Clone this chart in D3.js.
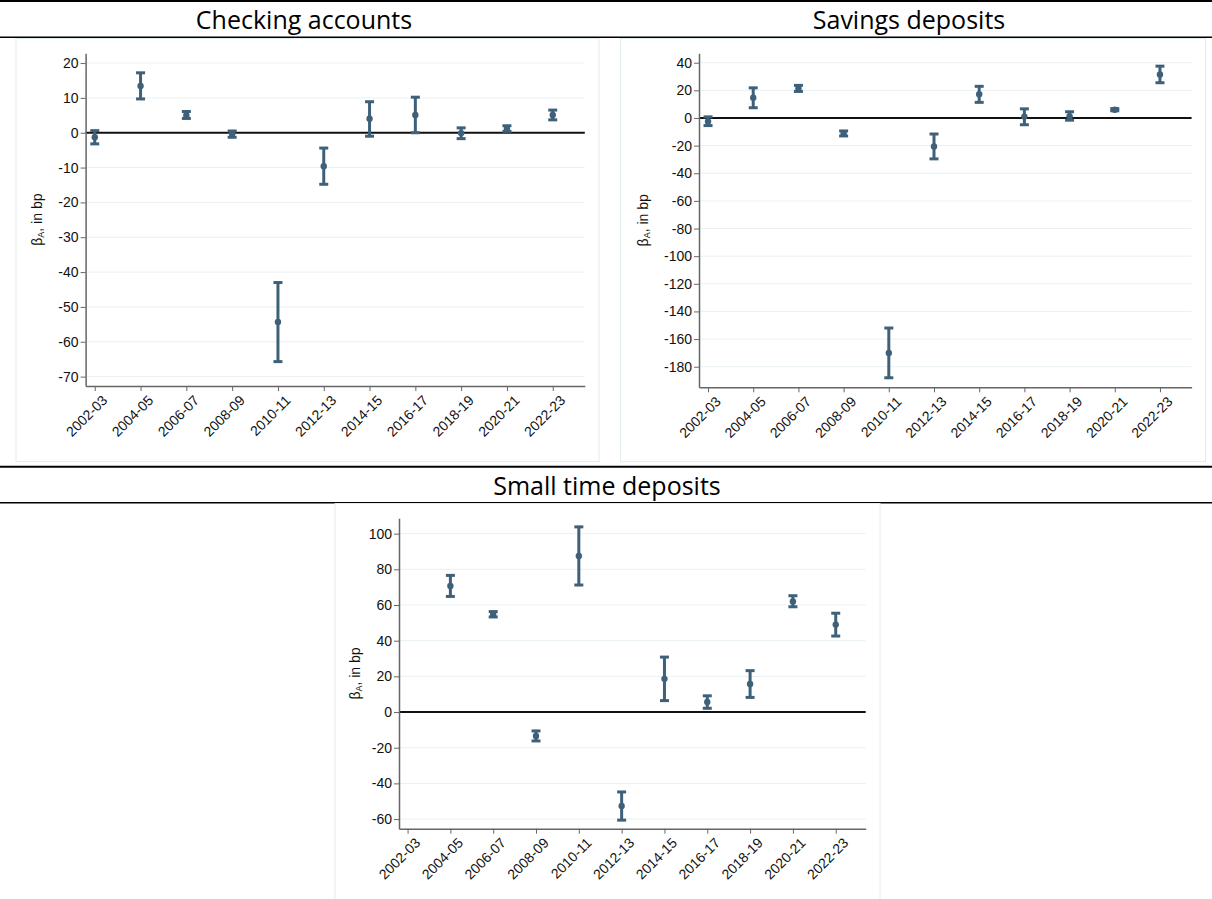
<!DOCTYPE html>
<html>
<head>
<meta charset="utf-8">
<script src="https://cdn.jsdelivr.net/npm/d3@7"></script>
<style>
  body { margin: 0; background: #fff; }
  svg { display: block; }
</style>
</head>
<body>
<svg id="chart" width="1212" height="899"></svg>
<script>
// Periods on the x axis
const periods = ["2002-03", "2004-05", "2006-07", "2008-09", "2010-11", "2012-13",
  "2014-15", "2016-17", "2018-19", "2020-21", "2022-23"];

// Checking accounts: point estimate and 95% CI, bp
const checkingEst = [-1.3, 13.4, 5.0, -0.4, -54.3, -9.6, 4.0, 5.1, -0.1, 1.2, 5.1];
const checkingLo = [-3.2, 9.7, 4.1, -1.3, -65.7, -14.8, -1.0, 0.0, -1.7, 0.4, 3.7];
const checkingHi = [0.6, 17.2, 6.1, 0.5, -43.0, -4.4, 8.9, 10.2, 1.4, 2.0, 6.5];

// Savings deposits
const savingsEst = [-2.5, 14.7, 21.3, -11.2, -170, -20.6, 17.2, 1.0, 1.2, 6.0, 31.5];
const savingsLo = [-5.5, 7.4, 19.2, -13.0, -188, -29.6, 11.3, -4.9, -1.6, 5.2, 25.5];
const savingsHi = [0.8, 21.8, 23.6, -9.4, -152, -11.6, 22.9, 6.6, 4.5, 6.8, 37.5];

// Small time deposits (no estimate for 2002-03)
const timeEst = [null, 70.7, 54.8, -13.4, 87.5, -52.7, 18.6, 5.6, 15.7, 62.0, 49.0];
const timeLo = [null, 64.8, 53.3, -16.2, 71.2, -60.6, 6.4, 2.1, 8.2, 59.0, 42.6];
const timeHi = [null, 76.6, 56.3, -10.6, 103.8, -44.8, 30.8, 9.1, 23.2, 65.2, 55.4];

const yTicksChecking = d3.range(20, -71, -10);
const yTicksSavings = d3.range(40, -181, -20);
const yTicksTime = d3.range(100, -61, -20);

const barColor = '#3e6079';
const gridColor = '#e9f1f2';
const axisColor = '#666';
const tickFont = '"Liberation Sans", Arial, sans-serif';

const svg = d3.select('#chart');

// Section rules
[[1, 2], [37.3, 1.5], [466.7, 2], [502.7, 1.5]].forEach(([yy, w]) => {
  svg.append('line').attr('x1', 0).attr('x2', 1212).attr('y1', yy).attr('y2', yy)
    .attr('stroke', '#000').attr('stroke-width', w);
});

const panels = [
  {
    title: 'Checking accounts', titleX: 304, titleY: 29,
    box: [16, 38.5, 583, 423],
    xRange: [85.6, 584.8], yRange: [386, 53.3], yDomain: [-72.7, 22.8],
    yTicks: yTicksChecking, labelX: 42,
    est: checkingEst, lo: checkingLo, hi: checkingHi
  },
  {
    title: 'Savings deposits', titleX: 909, titleY: 29,
    box: [620.5, 38.5, 585, 423],
    xRange: [699, 1191.6], yRange: [387.3, 53.3], yDomain: [-194.9, 46.8],
    yTicks: yTicksSavings, labelX: 648,
    est: savingsEst, lo: savingsLo, hi: savingsHi
  },
  {
    title: 'Small time deposits', titleX: 607, titleY: 495,
    box: [335, 503.5, 545, 420],
    xRange: [399, 865.7], yRange: [828.7, 518.3], yDomain: [-65.4, 108.6],
    yTicks: yTicksTime, labelX: 360,
    est: timeEst, lo: timeLo, hi: timeHi
  }
];

panels.forEach(p => {
  svg.append('text')
    .attr('x', p.titleX).attr('y', p.titleY)
    .attr('text-anchor', 'middle')
    .style('font-family', '"Open Sans", "Noto Sans", sans-serif')
    .style('font-size', '25px')
    .attr('fill', '#000')
    .text(p.title);

  // light frame around the plot region
  svg.append('rect')
    .attr('x', p.box[0]).attr('y', p.box[1])
    .attr('width', p.box[2]).attr('height', p.box[3])
    .attr('fill', 'none').attr('stroke', '#e3ecee').attr('stroke-width', 1);

  const x = d3.scaleLinear().domain([-0.2, 10.7]).range(p.xRange);
  const y = d3.scaleLinear().domain(p.yDomain).range(p.yRange);
  const g = svg.append('g');

  // gridlines
  g.selectAll('line.grid')
    .data(p.yTicks.filter(t => t !== 0))
    .join('line')
    .attr('class', 'grid')
    .attr('x1', p.xRange[0]).attr('x2', p.xRange[1])
    .attr('y1', d => y(d)).attr('y2', d => y(d))
    .attr('stroke', gridColor).attr('stroke-width', 1);

  // zero line
  g.append('line')
    .attr('x1', p.xRange[0]).attr('x2', p.xRange[1])
    .attr('y1', y(0)).attr('y2', y(0))
    .attr('stroke', '#111').attr('stroke-width', 2);

  // y axis
  const yAxis = g.append('g')
    .attr('transform', `translate(${p.xRange[0]},0)`)
    .call(d3.axisLeft(y).tickValues(p.yTicks).tickFormat(d => String(d))
      .tickSize(5).tickPadding(2).tickSizeOuter(0));
  yAxis.attr('font-family', null);
  yAxis.select('.domain').attr('stroke', axisColor).attr('stroke-width', 1.5);
  yAxis.selectAll('.tick line').attr('stroke', axisColor).attr('stroke-width', 1);
  yAxis.selectAll('.tick text')
    .style('font-family', tickFont)
    .style('font-size', '14px').attr('fill', '#111');

  // x axis
  const xAxis = g.append('g')
    .attr('transform', `translate(0,${p.yRange[0]})`)
    .call(d3.axisBottom(x).tickValues(d3.range(periods.length))
      .tickFormat(i => periods[i]).tickSize(5).tickSizeOuter(0));
  xAxis.attr('font-family', null);
  xAxis.select('.domain').attr('stroke', axisColor).attr('stroke-width', 1.5);
  xAxis.selectAll('.tick line').attr('stroke', axisColor).attr('stroke-width', 1);
  xAxis.selectAll('.tick text')
    .style('font-family', tickFont)
    .style('font-size', '14px').attr('fill', '#111')
    .attr('text-anchor', 'end')
    .attr('dy', '0.35em')
    .attr('transform', 'translate(4,6) rotate(-45)');

  // y axis title with subscript
  const lab = g.append('text')
    .attr('transform', `translate(${p.labelX},${(p.yRange[0] + p.yRange[1]) / 2}) rotate(-90)`)
    .attr('text-anchor', 'middle')
    .style('font-family', tickFont)
    .style('font-size', '14px').attr('fill', '#111');
  lab.append('tspan').text('β');
  lab.append('tspan').attr('font-size', '9px').attr('dy', 2).text('A');
  lab.append('tspan').attr('dy', -2).text(', in bp');

  // error bars
  const rows = periods.map((d, i) => ({ i, est: p.est[i], lo: p.lo[i], hi: p.hi[i] }))
    .filter(r => r.est !== null);
  const bars = g.selectAll('g.bar').data(rows).join('g').attr('class', 'bar');
  bars.append('line')
    .attr('x1', r => x(r.i)).attr('x2', r => x(r.i))
    .attr('y1', r => y(r.lo)).attr('y2', r => y(r.hi))
    .attr('stroke', barColor).attr('stroke-width', 3);
  ['lo', 'hi'].forEach(k => {
    bars.append('line')
      .attr('x1', r => x(r.i) - 4.5).attr('x2', r => x(r.i) + 4.5)
      .attr('y1', r => y(r[k])).attr('y2', r => y(r[k]))
      .attr('stroke', barColor).attr('stroke-width', 3);
  });
  bars.append('circle')
    .attr('cx', r => x(r.i)).attr('cy', r => y(r.est))
    .attr('r', 3.2).attr('fill', barColor);
});
</script>
</body>
</html>
